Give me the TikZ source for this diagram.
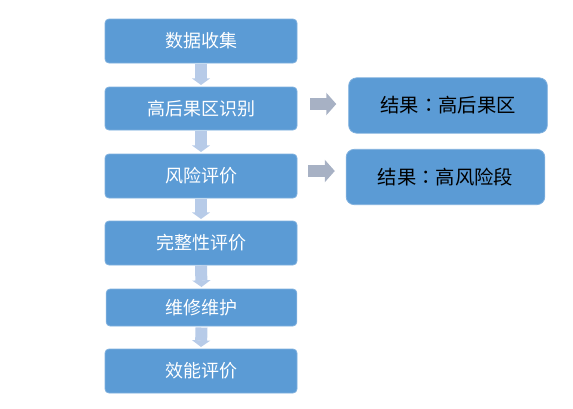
\documentclass[tikz,border=0pt]{standalone}
\usepackage{fontspec}
\setmainfont{Noto Sans CJK SC}
\newfontfamily\tcfont{Noto Sans CJK TC}
\usetikzlibrary{arrows.meta}
\definecolor{boxblue}{HTML}{5B9BD5}
\definecolor{boxedge}{HTML}{7FB0DE}
\definecolor{downarr}{HTML}{B7CBE8}
\definecolor{sidearr}{HTML}{A7B1C4}
\tikzset{
  stepbox/.style={fill=boxblue, draw=boxedge, line width=0.6pt, rounded corners=3pt,
    minimum width=144pt, text=white, font=\fontsize{13.5pt}{15pt}\selectfont, inner sep=0pt},
  resultbox/.style={fill=boxblue, draw=boxedge, line width=0.6pt, rounded corners=6pt,
    minimum width=149pt, minimum height=41.5pt, text=black, font=\fontsize{14.5pt}{16pt}\selectfont, inner sep=0pt},
  downarrow/.style={draw=downarr, line width=9pt, -{Triangle[width=13.5pt,length=5pt]}},
  sidearrow/.style={draw=sidearr, line width=9pt, -{Triangle[width=16.5pt,length=7.5pt]}}
}
\begin{document}
\begin{tikzpicture}[x=0.75pt,y=-0.75pt]
\useasboundingbox (0,0) rectangle (573,408);
\node[stepbox, minimum height=33pt] (s1) at (201,41) {数据收集};
\node[stepbox, minimum height=32.25pt] (s2) at (201,108.5) {高后果区识别};
\node[stepbox, minimum height=33pt] (s3) at (201,176) {风险评价};
\node[stepbox, minimum height=33pt] (s4) at (201,243) {完整性评价};
\node[stepbox, minimum height=27.75pt, minimum width=143pt] (s5) at (201.5,307.5) {维修维护};
\node[stepbox, minimum height=33pt] (s6) at (201,371) {效能评价};
\node[resultbox] (r1) at (448,105.5) {结果{\tcfont ：}高后果区};
\node[resultbox] (r2) at (445.5,177) {结果{\tcfont ：}高风险段};
\draw[downarrow] (s1.south |- 0,63.5) -- (s2.north |- 0,85);
\draw[downarrow] (s2.south |- 0,130.5) -- (s3.north |- 0,152);
\draw[downarrow] (s3.south |- 0,198.5) -- (s4.north |- 0,219);
\draw[downarrow] (s4.south |- 0,265.5) -- (s5.north |- 0,287);
\draw[downarrow] (s5.south |- 0,327.5) -- (s6.north |- 0,347);
\draw[sidearrow] ([xshift=9.75pt]s2.east |- 0,104) -- ([xshift=-9pt]r1.west |- 0,104);
\draw[sidearrow] ([xshift=8.25pt]s3.east |- 0,171) -- ([xshift=-8.25pt]r2.west |- 0,171);
\end{tikzpicture}
\end{document}
